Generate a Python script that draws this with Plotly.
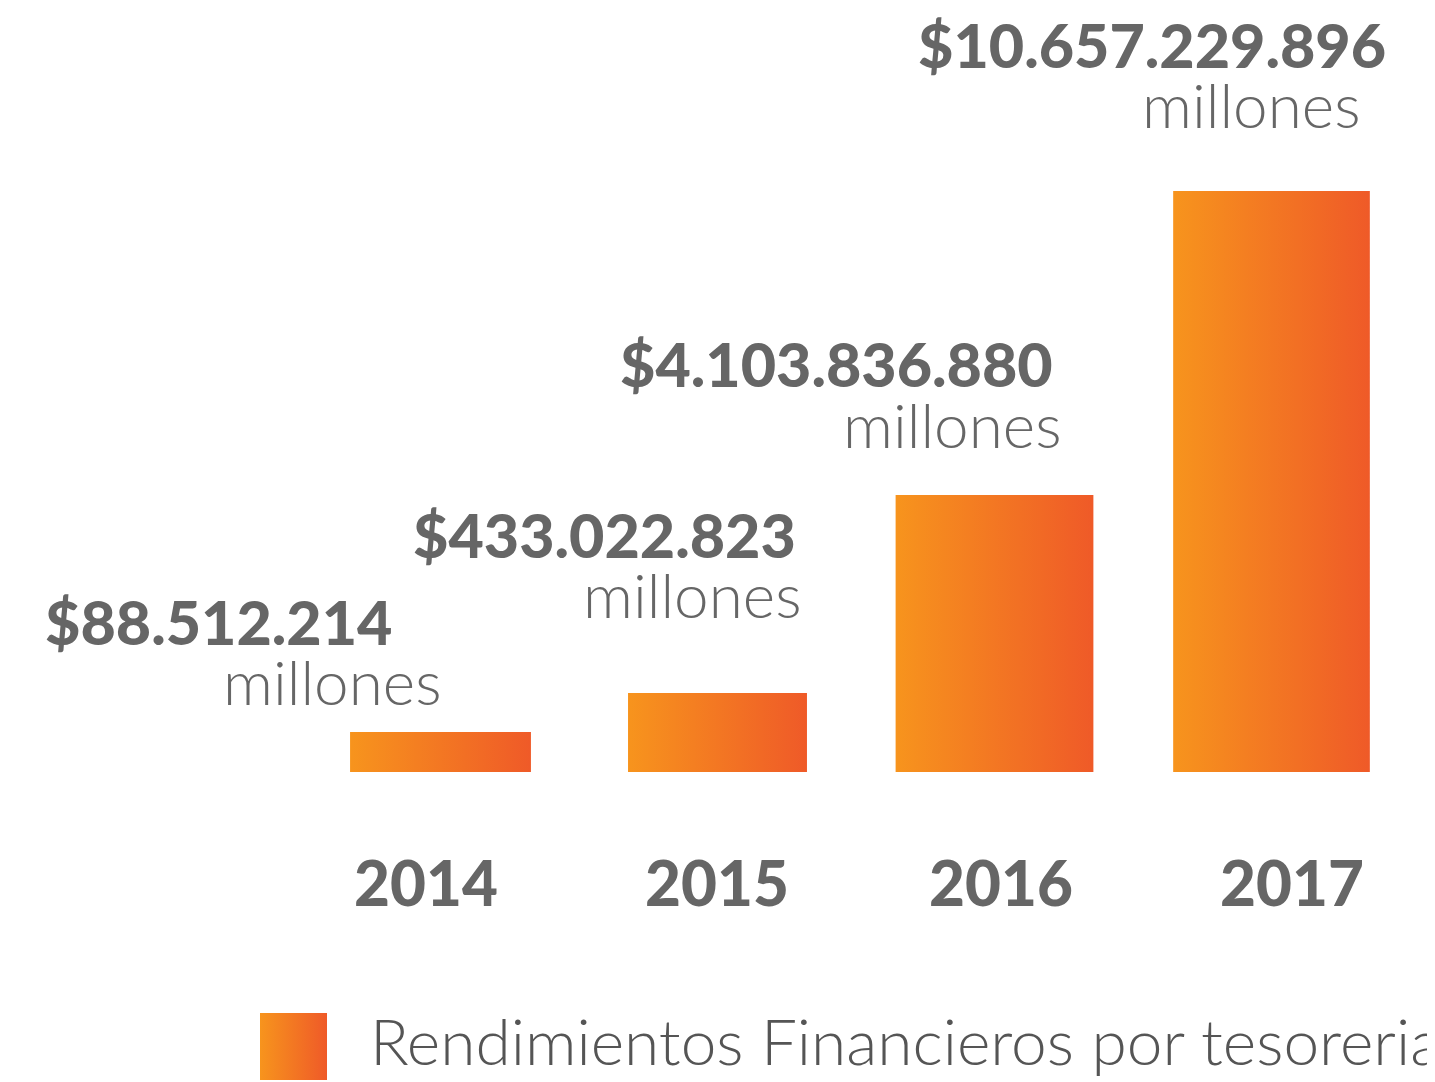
import plotly.graph_objects as go

# ---- data ----
years = ["2014", "2015", "2016", "2017"]
values_millones = [88512214, 433022823, 4103836880, 10657229896]
value_labels = ["$88.512.214", "$433.022.823", "$4.103.836.880", "$10.657.229.896"]
unit_label = "millones"
bar_heights = [40, 79, 277, 581]   # drawn bar heights (not proportional)
legend_label = "Rendimientos Financieros por tesoreria"

# ---- style ----
W, H = 1435, 1082
PAGE_OFF = 8   # default page body margin
X0_PX, STEP_PX, BASE_PX = 440.5, 277.0, 772
bar_widths = [0.653, 0.646, 0.714, 0.71]
grad = [[0, "#F7941D"], [1, "#EF5A28"]]
TXT = "#666666"

def px_x(p):
    return (p - X0_PX) / STEP_PX

def px_y(p):
    return BASE_PX - p

fig = go.Figure()
for i, (h, w) in enumerate(zip(bar_heights, bar_widths)):
    fig.add_trace(go.Scatter(
        x=[i - w / 2, i + w / 2, i + w / 2, i - w / 2, i - w / 2],
        y=[0, 0, h, h, 0],
        mode="lines", fill="toself", line=dict(width=0),
        fillgradient=dict(type="horizontal", colorscale=grad),
        hoverinfo="skip", showlegend=False))

# legend swatch
lx0, lx1, ly0, ly1 = px_x(260), px_x(327), px_y(1013), px_y(1080)
fig.add_trace(go.Scatter(
    x=[lx0, lx1, lx1, lx0, lx0], y=[ly1, ly1, ly0, ly0, ly1],
    mode="lines", fill="toself", line=dict(width=0),
    fillgradient=dict(type="horizontal", colorscale=grad),
    hoverinfo="skip", showlegend=False))

# value label placement (pixel offsets from bar centre / absolute y)
num_dx = [-47, 80, 60, 116]
num_y = [621, 534, 363, 44]
mil_dx = [3, 86, 69, 91]
mil_y = [681, 594, 424, 104]
year_dx = [-15, -1, 6, 20]
YEAR_Y = 882

annotations = []
for i in range(len(years)):
    annotations.append(dict(
        x=i, y=px_y(num_y[i]), xref="x", yref="y", xanchor="right", yanchor="middle",
        xshift=num_dx[i], text=value_labels[i], showarrow=False,
        font=dict(family="Lato", size=61, color=TXT, weight=900)))
    annotations.append(dict(
        x=i, y=px_y(mil_y[i]), xref="x", yref="y", xanchor="right", yanchor="middle",
        xshift=mil_dx[i], text=unit_label, showarrow=False,
        font=dict(family="Lato", size=62, color=TXT, weight=300)))
    annotations.append(dict(
        x=i, y=px_y(YEAR_Y), xref="x", yref="y", xanchor="center", yanchor="middle",
        xshift=year_dx[i], text=years[i], showarrow=False,
        font=dict(family="Lato", size=62, color=TXT, weight=900)))

annotations.append(dict(
    x=px_x(368), y=px_y(1040), xref="x", yref="y", xanchor="left", yanchor="middle",
    text=legend_label, showarrow=False,
    font=dict(family="Lato", size=64, color="#555555", weight=300)))

fig.update_layout(
    width=W, height=H,
    margin=dict(l=0, r=0, t=0, b=0),
    paper_bgcolor="white", plot_bgcolor="white",
    xaxis=dict(range=[px_x(PAGE_OFF), px_x(W + PAGE_OFF)], visible=False, fixedrange=True),
    yaxis=dict(range=[px_y(H + PAGE_OFF), px_y(PAGE_OFF)], visible=False, fixedrange=True),
    annotations=annotations,
    showlegend=False,
)

fig.write_html("out.html")
